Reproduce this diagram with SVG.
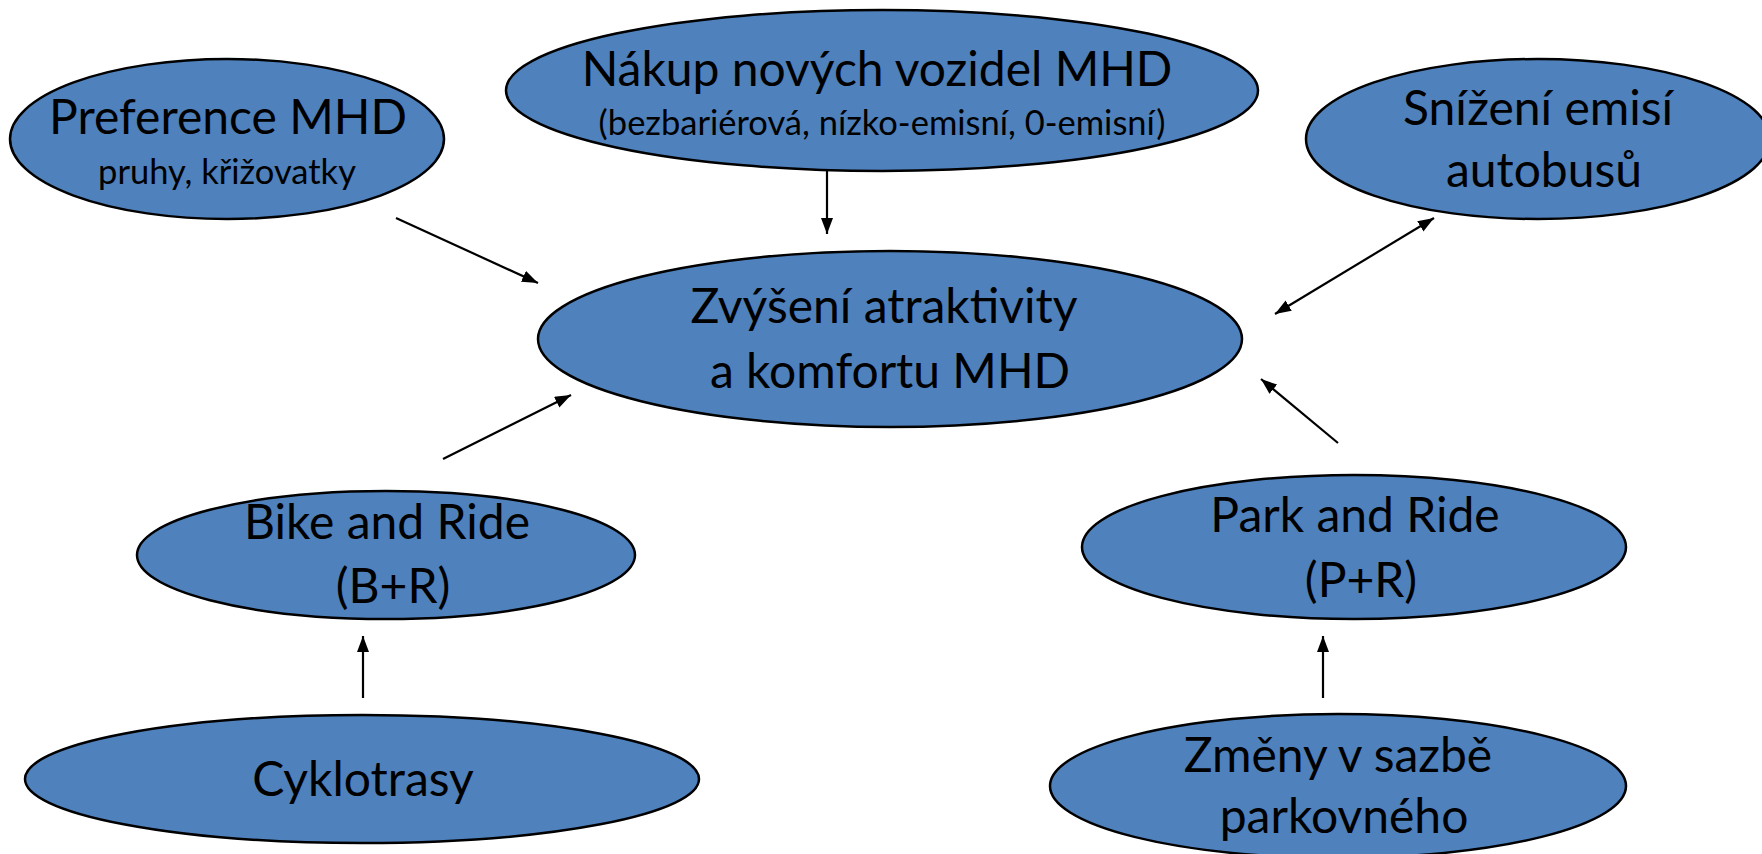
<svg xmlns="http://www.w3.org/2000/svg" width="1762" height="854" viewBox="0 0 1762 854">
<style>
.node ellipse{fill:#4F81BD;stroke:#000;stroke-width:2.5}
text{font-family:Lato,"Open Sans","Liberation Sans",sans-serif;fill:#000;text-anchor:middle}
.big{font-size:48px}
.small{font-size:34.5px}
.conn line{stroke:#000;stroke-width:2.2;fill:none}
</style>
<defs>
<marker id="ah" markerUnits="userSpaceOnUse" markerWidth="18" markerHeight="14" refX="16" refY="6" orient="auto-start-reverse">
<path d="M0,0 L16,6 L0,12 z" fill="#000"/>
</marker>
</defs>
<rect width="1762" height="854" fill="#fff"/>
<g id="preference" class="node">
<ellipse cx="227" cy="139" rx="217" ry="80"/>
<text class="big" x="228" y="134">Preference MHD</text>
<text class="small" x="227" y="184">pruhy, křižovatky</text>
</g>
<g id="nakup" class="node">
<ellipse cx="882" cy="90.5" rx="376" ry="80.5"/>
<text class="big" x="877" y="86">Nákup nových vozidel MHD</text>
<text class="small" x="882" y="135">(bezbariérová, nízko-emisní, 0-emisní)</text>
</g>
<g id="snizeni" class="node">
<ellipse cx="1538" cy="139" rx="232" ry="80"/>
<text class="big" x="1538" y="125">Snížení emisí</text>
<text class="big" x="1544" y="187">autobusů</text>
</g>
<g id="zvyseni" class="node">
<ellipse cx="890" cy="339" rx="352" ry="88"/>
<text class="big" x="884" y="323">Zvýšení atraktivity</text>
<text class="big" x="890" y="388">a komfortu MHD</text>
</g>
<g id="bike" class="node">
<ellipse cx="386" cy="555" rx="249" ry="64"/>
<text class="big" x="387" y="539">Bike and Ride</text>
<text class="big" x="393" y="603">(B+R)</text>
</g>
<g id="park" class="node">
<ellipse cx="1354" cy="547" rx="272" ry="72"/>
<text class="big" x="1355" y="532">Park and Ride</text>
<text class="big" x="1361" y="597">(P+R)</text>
</g>
<g id="cyklotrasy" class="node">
<ellipse cx="362" cy="779" rx="337" ry="64"/>
<text class="big" x="363" y="796">Cyklotrasy</text>
</g>
<g id="zmeny" class="node">
<ellipse cx="1338" cy="786" rx="288" ry="72"/>
<text class="big" x="1338" y="772">Změny v sazbě</text>
<text class="big" x="1344" y="833">parkovného</text>
</g>
<g id="connectors" class="conn">
<line x1="396" y1="218" x2="538" y2="283" marker-end="url(#ah)"/>
<line x1="827" y1="171" x2="827" y2="234" marker-end="url(#ah)"/>
<line x1="1275" y1="314" x2="1434" y2="218" marker-start="url(#ah)" marker-end="url(#ah)"/>
<line x1="443" y1="459" x2="571" y2="395" marker-end="url(#ah)"/>
<line x1="1338" y1="443" x2="1261" y2="379" marker-end="url(#ah)"/>
<line x1="363" y1="698" x2="363" y2="636" marker-end="url(#ah)"/>
<line x1="1323" y1="698" x2="1323" y2="636" marker-end="url(#ah)"/>
</g>
</svg>
